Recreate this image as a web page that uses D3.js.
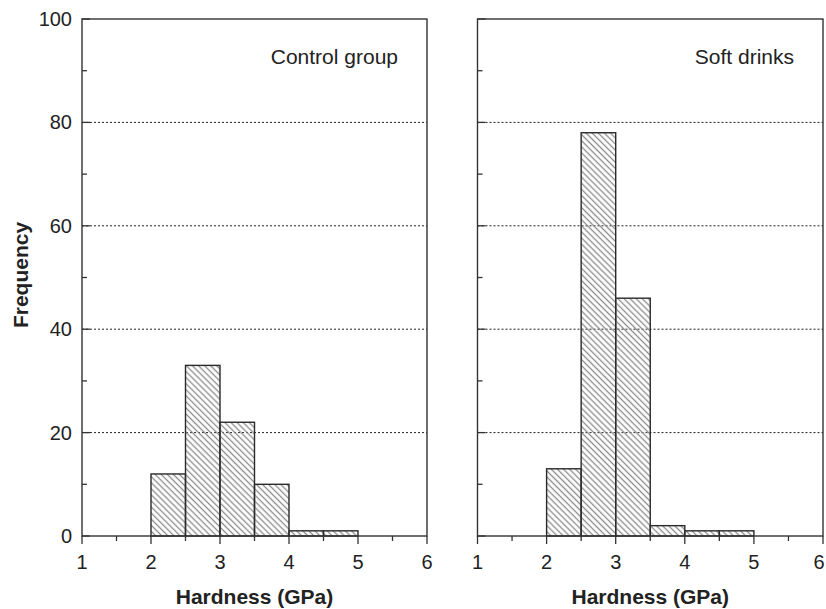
<!DOCTYPE html>
<html>
<head>
<meta charset="utf-8">
<script src="https://d3js.org/d3.v7.min.js"></script>
<style>
  body { margin: 0; background: #fff; }
  text { font-family: "Liberation Sans", Arial, sans-serif; fill: #222; }
</style>
</head>
<body>
<svg width="826" height="609"></svg>
<script>
var width = 826,
    height = 609;

// histogram bins (lower edges, bin width 0.5 GPa)
var binStarts = [2, 2.5, 3, 3.5, 4, 4.5];
var binWidth = 0.5;
var controlFreq = [12, 33, 22, 10, 1, 1];
var softFreq = [13, 78, 46, 2, 1, 1];

var xTicks = [1, 2, 3, 4, 5, 6];
var xMinor = [1.5, 2.5, 3.5, 4.5, 5.5];
var yTicks = [0, 20, 40, 60, 80, 100];
var yMinor = [10, 30, 50, 70, 90];

var panels = [
  { name: "Control group", values: controlFreq, left: 82, right: 427, yLabels: true },
  { name: "Soft drinks", values: softFreq, left: 477.5, right: 823, yLabels: false }
];

var svg = d3.select("svg");

// hatch fill for bars
var defs = svg.append("defs");
var pat = defs.append("pattern")
    .attr("id", "hatch")
    .attr("patternUnits", "userSpaceOnUse")
    .attr("width", 8)
    .attr("height", 4.3)
    .attr("patternTransform", "rotate(45)");
pat.append("line")
    .attr("x1", 0).attr("x2", 8)
    .attr("y1", 2.15).attr("y2", 2.15)
    .attr("stroke", "#8a8a8a")
    .attr("stroke-width", 1.3);

var y = d3.scaleLinear()
    .domain([0, 100])
    .range([536, 19]);

panels.forEach(function (p, i) {
  var x = d3.scaleLinear()
      .domain([1, 6])
      .range([p.left, p.right]);

  var g = svg.append("g").attr("class", "panel");

  // dotted gridlines
  g.selectAll("line.grid")
    .data(yTicks.filter(function (d) { return d > 0 && d < 100; }))
    .enter().append("line")
    .attr("class", "grid")
    .attr("x1", p.left).attr("x2", p.right)
    .attr("y1", function (d) { return y(d); })
    .attr("y2", function (d) { return y(d); })
    .attr("stroke", "#222")
    .attr("stroke-width", 1)
    .attr("stroke-dasharray", "2,2");

  // bars
  g.selectAll("rect.bar")
    .data(p.values)
    .enter().append("rect")
    .attr("class", "bar")
    .attr("x", function (d, j) { return x(binStarts[j]); })
    .attr("width", function (d, j) { return x(binStarts[j] + binWidth) - x(binStarts[j]); })
    .attr("y", function (d) { return y(d); })
    .attr("height", function (d) { return y(0) - y(d); })
    .attr("fill", "url(#hatch)")
    .attr("stroke", "#2a2a2a")
    .attr("stroke-width", 1.4);

  // frame
  g.append("rect")
    .attr("x", p.left).attr("y", y(100))
    .attr("width", p.right - p.left)
    .attr("height", y(0) - y(100))
    .attr("fill", "none")
    .attr("stroke", "#333")
    .attr("stroke-width", 1.4);

  // x ticks (outward)
  g.selectAll("line.xmaj")
    .data(xTicks)
    .enter().append("line")
    .attr("x1", function (d) { return x(d); })
    .attr("x2", function (d) { return x(d); })
    .attr("y1", y(0)).attr("y2", y(0) + 8)
    .attr("stroke", "#333").attr("stroke-width", 1.3);
  g.selectAll("line.xmin")
    .data(xMinor)
    .enter().append("line")
    .attr("x1", function (d) { return x(d); })
    .attr("x2", function (d) { return x(d); })
    .attr("y1", y(0)).attr("y2", y(0) + 5)
    .attr("stroke", "#333").attr("stroke-width", 1.3);

  g.selectAll("text.xlab")
    .data(xTicks)
    .enter().append("text")
    .attr("x", function (d) { return Math.min(x(d), width - 7); })
    .attr("y", 569)
    .attr("text-anchor", "middle")
    .attr("font-size", 20)
    .text(function (d) { return d; });

  // y ticks (inward)
  g.selectAll("line.ymaj")
    .data(yTicks)
    .enter().append("line")
    .attr("x1", p.left).attr("x2", p.left + 8)
    .attr("y1", function (d) { return y(d); })
    .attr("y2", function (d) { return y(d); })
    .attr("stroke", "#333").attr("stroke-width", 1.3);
  g.selectAll("line.ymin")
    .data(yMinor)
    .enter().append("line")
    .attr("x1", p.left).attr("x2", p.left + 5)
    .attr("y1", function (d) { return y(d); })
    .attr("y2", function (d) { return y(d); })
    .attr("stroke", "#333").attr("stroke-width", 1.3);

  if (p.yLabels) {
    g.selectAll("text.ylab")
      .data(yTicks)
      .enter().append("text")
      .attr("x", p.left - 10)
      .attr("y", function (d) { return y(d) + 7; })
      .attr("text-anchor", "end")
      .attr("font-size", 20)
      .text(function (d) { return d; });
  }

  // panel title
  g.append("text")
    .attr("x", p.right - 29)
    .attr("y", 64)
    .attr("text-anchor", "end")
    .attr("font-size", 21)
    .text(p.name);

  // x axis label
  g.append("text")
    .attr("x", (p.left + p.right) / 2)
    .attr("y", 604)
    .attr("text-anchor", "middle")
    .attr("font-size", 21)
    .attr("font-weight", "bold")
    .text("Hardness (GPa)");
});

svg.append("text")
  .attr("transform", "translate(28,275) rotate(-90)")
  .attr("text-anchor", "middle")
  .attr("font-size", 21)
  .attr("font-weight", "bold")
  .text("Frequency");
</script>
</body>
</html>
